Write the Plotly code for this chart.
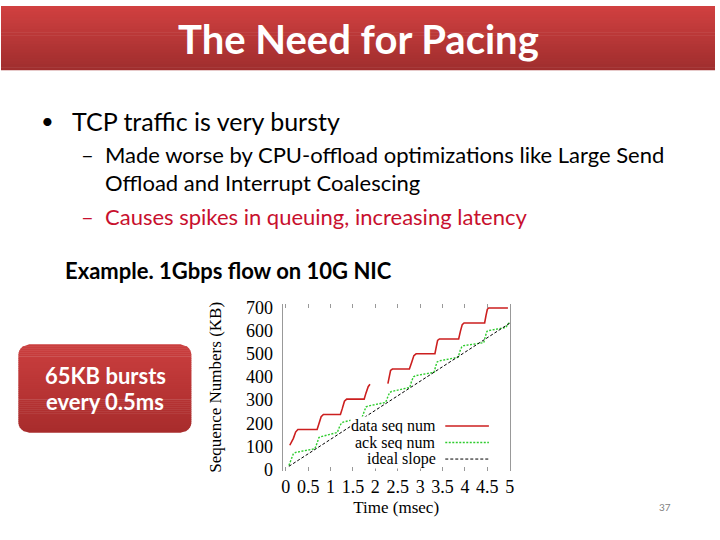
import plotly.graph_objects as go

# data (time in msec, sequence numbers in KB)
data_t = [0.09, 0.17, 0.22, 0.27, 0.70, 0.74, 0.79, 0.84, 1.22, 1.26, 1.31, 1.36,
          1.75, 1.79, 1.84, 1.88, None,
          2.28, 2.31, 2.34, 2.38, 2.76, 2.81, 2.86, 2.91, 3.33, 3.36, 3.39, 3.43,
          3.86, 3.90, 3.94, 3.98, 4.44, 4.47, 4.50, 4.53, 4.96]
data_kb = [105, 135, 162, 173, 173, 195, 228, 238, 238, 262, 295, 304,
           304, 330, 358, 368, None,
           371, 402, 428, 434, 434, 462, 492, 500, 500, 530, 558, 564,
           564, 598, 626, 633, 633, 665, 692, 698, 698]

ack_t = [0.07, 0.12, 0.17, 0.22, 0.65, 0.70, 0.74, 0.78, 1.15, 1.20, 1.24, 1.28,
         1.70, 1.75, 1.79, 1.83, 2.23, 2.28, 2.32, 2.36, 2.77, 2.81, 2.85, 2.89,
         3.31, 3.35, 3.38, 3.42, 3.85, 3.89, 3.93, 3.97, 4.42, 4.46, 4.49, 4.52,
         4.92, 4.95, 5.00]
ack_kb = [18, 45, 68, 74, 90, 115, 138, 142, 160, 185, 200, 205,
          224, 250, 270, 274, 290, 315, 333, 337, 355, 382, 400, 405,
          420, 448, 465, 469, 485, 512, 530, 535, 548, 578, 596, 600,
          614, 628, 634]

ideal_t = [0.07, 5.00]
ideal_kb = [14, 632]

x_ticks = [0, 0.5, 1, 1.5, 2, 2.5, 3, 3.5, 4, 4.5, 5]
y_ticks = [0, 100, 200, 300, 400, 500, 600, 700]

W, H = 720, 540
SERIF = "Liberation Serif"
SANS = "Lato"


def px(x):
    return x / W


def py(y):
    return 1 - y / H


def mix(c1, c2, f):
    return "rgb(%d,%d,%d)" % tuple(round(a + (b - a) * f) for a, b in zip(c1, c2))


fig = go.Figure()
fig.add_trace(go.Scatter(x=data_t, y=data_kb, mode="lines", name="data seq num",
                         line=dict(color="#cc1f1f", width=1.6), connectgaps=False))
fig.add_trace(go.Scatter(x=ack_t, y=ack_kb, mode="lines", name="ack seq num",
                         line=dict(color="#2ecc2e", width=1.4, dash="2px,1.5px")))
fig.add_trace(go.Scatter(x=ideal_t, y=ideal_kb, mode="lines", name="ideal slope",
                         line=dict(color="black", width=1, dash="3px,2px")))

shapes = []
# title bar, vertical gradient
top_c, bot_c = (208, 64, 64), (160, 46, 46)
n = 22
for i in range(n):
    y0 = 66 * i / n
    y1 = 66 * (i + 1) / n + 0.6
    shapes.append(dict(type="rect", xref="paper", yref="paper", layer="below",
                       x0=0, x1=1, y0=py(min(y1, 66)), y1=py(y0),
                       line=dict(width=0), fillcolor=mix(top_c, bot_c, i / (n - 1))))

# rounded callout box, gradient done in thin bands
bx0, bx1, by0, by1, r = 17.5, 192, 348, 439, 11
bt_c, bb_c = (202, 62, 62), (168, 44, 44)


def inset(y):
    if y < by0 + r:
        d = by0 + r - y
    elif y > by1 - r:
        d = y - (by1 - r)
    else:
        return 0
    d = min(d, r)
    return r - (r * r - d * d) ** 0.5


nb = 45
for i in range(nb):
    ya = by0 + (by1 - by0) * i / nb
    yb = min(by0 + (by1 - by0) * (i + 1) / nb + 0.5, by1)
    ia, ib = inset(ya), inset(yb)
    path = "M %f %f L %f %f L %f %f L %f %f Z" % (
        px(bx0 + ia), py(ya), px(bx1 - ia), py(ya),
        px(bx1 - ib), py(yb), px(bx0 + ib), py(yb))
    shapes.append(dict(type="path", xref="paper", yref="paper", layer="below", path=path,
                       line=dict(width=0), fillcolor=mix(bt_c, bb_c, i / (nb - 1))))

# key samples (gnuplot style: text then line)
key_rows = [(432, "data seq num", "#cc1f1f", "solid", 1.6),
            (449, "ack seq num", "#2ecc2e", "2px,1.5px", 1.4),
            (466, "ideal slope", "black", "3px,2px", 1)]
annotations = []
for yk, label, col, dash, w in key_rows:
    shapes.append(dict(type="line", xref="paper", yref="paper",
                       x0=px(448), x1=px(492), y0=py(yk), y1=py(yk),
                       line=dict(color=col, width=w, dash=dash)))
    annotations.append(dict(xref="paper", yref="paper", x=px(440), y=py(yk),
                            xanchor="right", yanchor="middle", showarrow=False,
                            text=label, bgcolor="white", borderpad=0,
                            font=dict(family=SERIF, size=16, color="black")))

# slide texts
annotations += [
    dict(x=px(360), y=py(34), text="<b>The Need for Pacing</b>",
         font=dict(family=SANS, size=40, color="white")),
    dict(x=px(47), y=py(118), text="•", xanchor="center",
         font=dict(family=SANS, size=22, color="black")),
    dict(x=px(70), y=py(118), text="TCP traffic is very bursty", xanchor="left",
         font=dict(family=SANS, size=25, color="black")),
    dict(x=px(79), y=py(153), text="–", xanchor="left",
         font=dict(family=SANS, size=22, color="black")),
    dict(x=px(103), y=py(153), text="Made worse by CPU-offload optimizations like Large Send",
         xanchor="left", font=dict(family=SANS, size=22, color="black")),
    dict(x=px(103), y=py(182), text="Offload and Interrupt Coalescing", xanchor="left",
         font=dict(family=SANS, size=22, color="black")),
    dict(x=px(79), y=py(217), text="–", xanchor="left",
         font=dict(family=SANS, size=22, color="#c8102e")),
    dict(x=px(103), y=py(217), text="Causes spikes in queuing, increasing latency",
         xanchor="left", font=dict(family=SANS, size=22, color="#c8102e")),
    dict(x=px(63), y=py(272), text="<b>Example. 1Gbps flow on 10G NIC</b>", xanchor="left",
         font=dict(family=SANS, size=22, color="black")),
    dict(x=px(105), y=py(380), text="<b>65KB bursts</b>",
         font=dict(family=SANS, size=22, color="white")),
    dict(x=px(105), y=py(407), text="<b>every 0.5ms</b>",
         font=dict(family=SANS, size=22, color="white")),
    dict(x=px(670), y=py(515), text="37",
         font=dict(family=SANS, size=10, color="#7f7f7f")),
]
for a in annotations:
    a.setdefault("xref", "paper")
    a.setdefault("yref", "paper")
    a.setdefault("showarrow", False)
    a.setdefault("xanchor", "center")
    a.setdefault("yanchor", "middle")

fig.update_layout(
    width=W, height=H,
    margin=dict(l=0, r=0, t=0, b=0),
    paper_bgcolor="white", plot_bgcolor="white",
    showlegend=False,
    shapes=shapes, annotations=annotations,
    xaxis=dict(domain=[px(284), px(513)], range=[-0.07, 5.0],
               tickvals=x_ticks, ticktext=[("%g" % v) for v in x_ticks],
               showgrid=False, zeroline=False,
               showline=True, linecolor="rgba(0,0,0,0)", mirror="ticks",
               ticks="inside", ticklen=4, tickcolor="#999999",
               tickfont=dict(family=SERIF, size=18, color="black"),
               title=dict(text="Time (msec)", standoff=4,
                          font=dict(family=SERIF, size=17, color="black"))),
    yaxis=dict(domain=[py(478), py(306.5)], range=[-5, 715],
               tickvals=y_ticks, showgrid=False, zeroline=False,
               showline=True, linecolor="#999999", linewidth=1, mirror=True,
               ticks="", ticklabelstandoff=5,
               tickfont=dict(family=SERIF, size=18, color="black"),
               title=dict(text="Sequence Numbers (KB)", standoff=20,
                          font=dict(family=SERIF, size=17, color="black"))),
)

# drop the page's default body margin so the figure sits at the window's corner
fig.write_html("out.html", config={"displayModeBar": False},
               post_script="document.body.style.margin='0';document.body.style.overflow='hidden';")
